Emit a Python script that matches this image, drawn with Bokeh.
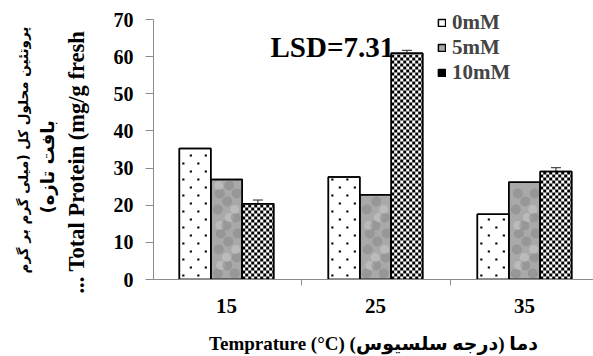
import math
from bokeh.plotting import figure
from bokeh.models import (ColumnDataSource, Range1d, FixedTicker, Legend, LegendItem,
                          Whisker, TeeHead, Label, Title)
from bokeh.transform import dodge
from bokeh.embed import file_html
from bokeh.resources import INLINE

# ---- data ----
tick_labels = ["15", "25", "35"]
group_x = [1, 2, 3]
series = ["0mM", "5mM", "10mM"]
p0 = [35.3, 27.6, 17.6]
p5 = [26.9, 22.8, 26.2]
p10 = [20.4, 60.9, 29.1]
err10 = [1.0, 0.8, 1.0]
lsd = 7.31
y_ticks = [0, 10, 20, 30, 40, 50, 60, 70]

x_title = "Temprature (°C) دما (درجه سلسیوس)\u200f"
y_title_en = "... Total Protein (mg/g fresh"
y_title_fa1 = "پروتئین محلول کل (میلی گرم بر گرم"
y_title_fa2 = "بافت تازه)\u200f"

SERIF = "Liberation Serif"
MIXED = "Liberation Serif, DejaVu Sans"

# ---- geometry ----
X0, X1 = 0.51, 3.463
Y0, Y1 = 0.0, 75.12
FRAME_W, FRAME_H = 440, 279
XPX = (X1 - X0) / FRAME_W   # data units per pixel
YPX = (Y1 - Y0) / FRAME_H
bw = 0.211

src = ColumnDataSource(dict(
    x=group_x, p0=p0, p5=p5, p10=p10,
    up=[v + e for v, e in zip(p10, err10)],
    lo=[v - e for v, e in zip(p10, err10)],
))

p = figure(width=593, height=356, x_range=Range1d(X0, X1), y_range=Range1d(Y0, Y1),
           output_backend="svg", toolbar_location=None, title=None,
           min_border_left=153, min_border_right=0, min_border_top=0, min_border_bottom=77)
p.outline_line_color = None
p.xgrid.visible = False
p.ygrid.visible = False

r0 = p.vbar(x=dodge("x", -bw), top="p0", width=bw, source=src,
            fill_color="white", line_color="black", line_width=1.5)
r5 = p.vbar(x="x", top="p5", width=bw, source=src,
            fill_color="#a9a9a9", line_color="black", line_width=1.5)
r10 = p.vbar(x=dodge("x", bw), top="p10", width=bw, source=src,
             fill_color="white", line_color="black", line_width=1.5)

# --- dotted texture for 0mM bars ---
dx, dy = [], []
for xc, v in zip(group_x, p0):
    left = xc - bw - bw / 2
    k = 0
    yy = 4 * YPX
    while yy < v - 2 * YPX:
        offs = [4, 19] if k % 2 == 0 else [11.5, 26.5]
        for o in offs:
            dx.append(left + o * XPX)
            dy.append(yy)
        yy += 8 * YPX
        k += 1
p.scatter(dx, dy, marker="square", size=2.2, fill_color="black", line_color=None)

# --- mottled texture for 5mM bars ---
mx, my, mc, ma, ms = [], [], [], [], []
for xc, v in zip(group_x, p5):
    left = xc - bw / 2
    i = 0
    yy = 6 * YPX
    while yy < v - 5 * YPX:
        for j in range(3):
            xx = left + (7 + 8.5 * j + ((i * 3 + j * 2) % 4)) * XPX
            kind = (i * 2 + j * 3) % 5
            if kind in (0, 1):
                mx.append(xx); my.append(yy); mc.append("#6e6e6e"); ma.append(0.3); ms.append(10)
            elif kind == 2:
                mx.append(xx); my.append(yy); mc.append("#d8d8d8"); ma.append(0.4); ms.append(9)
        yy += 8 * YPX
        i += 1
p.scatter(x=mx, y=my, size=ms, fill_color=mc, fill_alpha=ma, line_color=None)

# --- checkerboard texture for 10mM bars ---
cl, cr, cb, ct = [], [], [], []
cw, ch = 3 * XPX, 3 * YPX
for xc, v in zip(group_x, p10):
    left = xc + bw / 2
    right = left + bw
    ncol = int(math.ceil(bw / cw))
    nrow = int(math.ceil(v / ch))
    for i in range(nrow):
        for j in range(ncol):
            if (i + j) % 2 == 0:
                cl.append(left + j * cw)
                cr.append(min(left + (j + 1) * cw, right))
                cb.append(i * ch)
                ct.append(min((i + 1) * ch, v))
rchk = p.quad(left=cl, right=cr, bottom=cb, top=ct, fill_color="black", line_color=None)

# outlines on top
for col, off in (("p0", -bw), ("p5", 0), ("p10", bw)):
    p.vbar(x=dodge("x", off), top=col, width=bw, source=src,
           fill_color=None, line_color="black", line_width=1.5)

wh = Whisker(source=src, base=dodge("x", bw), upper="up", lower="lo", line_color="#222222",
             line_width=1,
             upper_head=TeeHead(size=10, line_color="#222222", line_width=1),
             lower_head=TeeHead(size=10, line_color="#222222", line_width=1))
p.add_layout(wh)

# axes
ya = p.yaxis[0]
ya.ticker = FixedTicker(ticks=y_ticks)
ya.bounds = (0, 70)
ya.axis_line_color = "#8c8c8c"
ya.major_tick_line_color = "#8c8c8c"
ya.major_tick_out = 8
ya.major_tick_in = 0
ya.minor_tick_out = 0
ya.minor_tick_in = 0
ya.major_label_text_font = SERIF
ya.major_label_text_font_style = "bold"
ya.major_label_text_font_size = "20px"
ya.major_label_text_color = "black"
ya.major_label_standoff = 12
ya.axis_label = " "
ya.axis_label_text_font_size = "2px"
ya.axis_label_standoff = 16

xa = p.xaxis[0]
xa.ticker = FixedTicker(ticks=group_x, minor_ticks=[1.5, 2.5])
xa.major_label_overrides = dict(zip(group_x, tick_labels))
xa.axis_line_color = "#8c8c8c"
xa.minor_tick_line_color = "#8c8c8c"
xa.major_tick_out = 0
xa.major_tick_in = 0
xa.minor_tick_out = 6
xa.minor_tick_in = 0
xa.major_label_text_font = SERIF
xa.major_label_text_font_style = "bold"
xa.major_label_text_font_size = "21px"
xa.major_label_text_color = "black"
xa.major_label_standoff = 13
xa.axis_label = x_title
xa.axis_label_text_font = MIXED
xa.axis_label_text_font_style = "bold"
xa.axis_label_text_font_size = "19px"
xa.axis_label_text_color = "black"
xa.axis_label_standoff = 17

# rotated y-axis titles (closest to the axis first)
p.add_layout(Title(text=y_title_en, align="left", offset=-14, standoff=2,
                   text_font=SERIF, text_font_style="bold", text_font_size="22.5px",
                   text_color="black"), "left")
p.add_layout(Title(text=y_title_fa2, align="left", offset=66, standoff=5,
                   text_font="DejaVu Sans", text_font_size="18px",
                   text_color="black"), "left")
p.add_layout(Title(text=y_title_fa1, align="left", offset=6, standoff=3,
                   text_font="DejaVu Sans", text_font_size="13.5px",
                   text_color="black"), "left")

p.add_layout(Label(x=1.295, y=62.5, text=f"LSD={lsd}", text_font=SERIF,
                   text_font_style="bold", text_font_size="29px", text_color="black",
                   text_baseline="alphabetic"))

legend = Legend(items=[LegendItem(label=series[0], renderers=[r0]),
                       LegendItem(label=series[1], renderers=[r5]),
                       LegendItem(label=series[2], renderers=[r10, rchk])],
                location=(284, 194), glyph_width=9, glyph_height=9, label_standoff=6,
                spacing=0, padding=0, margin=0, border_line_color=None,
                background_fill_alpha=0, label_text_font=SERIF, label_text_font_style="bold",
                label_text_font_size="21px", label_height=24)
p.add_layout(legend)

open("out.html", "w").write(file_html(p, INLINE))
